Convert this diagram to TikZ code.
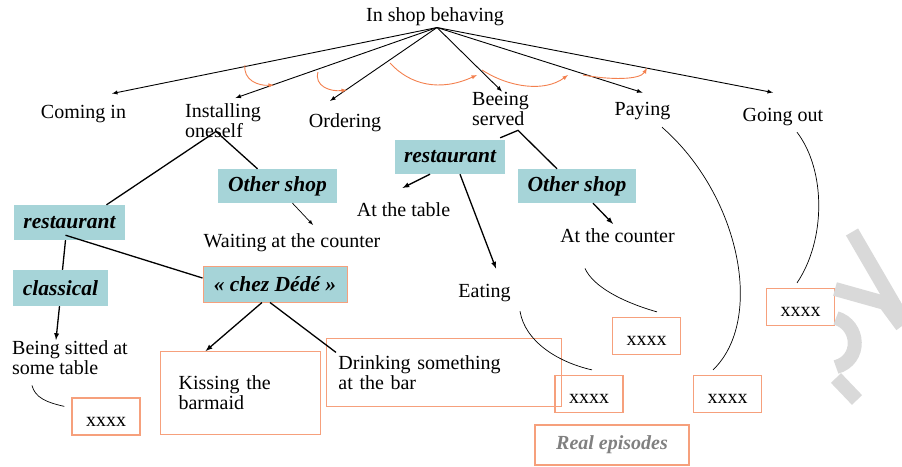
\documentclass[tikz,border=0pt]{standalone}
\usepackage{fontspec}
\setmainfont{Liberation Serif}
\definecolor{kindfill}{RGB}{166,212,216}
\definecolor{epiline}{RGB}{246,160,124}
\definecolor{seqline}{RGB}{243,128,78}
\newcommand{\lblfont}{\fontsize{20}{20}\selectfont}
\newcommand{\kindfont}{\fontsize{21.5}{22}\selectfont\bfseries\itshape}
\begin{document}
\begin{tikzpicture}[x=1pt, y=-1pt,
        phase/.style={font=\lblfont, inner sep=2pt},
        kind/.style={fill=kindfill, font=\kindfont, inner sep=0pt},
        episode/.style={draw=epiline, line width=1.2pt, font=\lblfont, align=left, inner ysep=0pt},
        real/.style={draw=epiline, line width=1.2pt, font=\lblfont, text height=19pt,
                     minimum width=68pt, minimum height=37pt, inner sep=0pt},
        branch/.style={draw, line width=0.9pt, -latex},
        link/.style={draw, line width=1.3pt},
        note/.style={draw, line width=0.7pt},
        seq/.style={draw=seqline, line width=0.9pt, -latex},
        wmark/.style={draw=black!15, line width=14pt}
    ]
    \useasboundingbox (0,0) rectangle (902,466);

    % Draw the phases of the in-shop behaviour
    \node[phase, anchor=base] (root) at (435,21) {In shop behaving};
    \node[phase, anchor=base] (coming) at (83.5,118) {Coming in};
    \node[phase, anchor=north west, align=left] (installing) at (183,101) {Installing\\oneself};
    \node[phase, anchor=base] (ordering) at (345,127) {Ordering};
    \node[phase, anchor=north west, align=left] (serving) at (470,90.5) {Beeing\\served};
    \node[phase, anchor=base] (paying) at (642.5,115) {Paying};
    \node[phase, anchor=base] (leaving) at (783,121) {Going out};

    \draw[branch] ([xshift=2pt]root.south) -- ([xshift=28.5pt,yshift=9pt]coming.north);
    \draw[branch] ([xshift=2pt]root.south) -- ([xshift=12.5pt,yshift=3pt]installing.north);
    \draw[branch] ([xshift=2pt]root.south) -- ([xshift=-15pt,yshift=10pt]ordering.north);
    \draw[branch] ([xshift=2pt]root.south) -- ([xshift=1.5pt,yshift=-1pt]serving.north);
    \draw[branch] ([xshift=2pt]root.south) -- ([yshift=7pt]paying.north);
    \draw[branch] ([xshift=2pt]root.south) -- ([xshift=-10pt,yshift=13pt]leaving.north);

    % sequence between the phases
    \coordinate (seq1a) at (245,65);  \coordinate (seq1b) at (274,85);
    \coordinate (seq2a) at (318,72);  \coordinate (seq2b) at (347,90);
    \coordinate (seq3a) at (390,63);  \coordinate (seq3b) at (477,75);
    \coordinate (seq4a) at (482,70);  \coordinate (seq4b) at (568,75);
    \coordinate (seq5a) at (583,75);  \coordinate (seq5b) at (647,68);
    \draw[seq] (seq1a) .. controls +(-2,15) and +(-16,1) .. (seq1b);
    \draw[seq] (seq2a) .. controls +(-4,14) and +(-17,2) .. (seq2b);
    \draw[seq] (seq3a) .. controls +(20,22) and +(-37,17) .. (seq3b);
    \draw[seq] (seq4a) .. controls +(28,18) and +(-23,17) .. (seq4b);
    \draw[seq] (seq5a) .. controls +(27,5) and +(-7,12) .. (seq5b);

    % kinds of shop
    \node[kind, minimum width=111pt, minimum height=35pt] (restoA) at (69.5,222.5) {restaurant};
    \node[kind, minimum width=119pt, minimum height=34pt] (otherA) at (277.5,186) {Other shop};
    \node[kind, minimum width=95pt, minimum height=36pt] (classical) at (60.5,288) {classical};
    \node[kind, draw=epiline, line width=1pt, minimum width=144pt, minimum height=36pt] (dede) at (275,284) {« chez Dédé »};
    \node[kind, minimum width=110pt, minimum height=34pt] (restoB) at (450,157) {restaurant};
    \node[kind, minimum width=118pt, minimum height=34pt] (otherB) at (577,186) {Other shop};

    \node[phase, anchor=base] (waiting) at (292,247) {Waiting at the counter};
    \node[phase, anchor=base] (attable) at (403.5,216) {At the table};
    \node[phase, anchor=base] (atcounter) at (617.5,242) {At the counter};
    \node[phase, anchor=base] (eating) at (484.5,297) {Eating};
    \node[phase, anchor=north west, align=left] (sitted) at (10,338) {Being sitted at\\some table};

    \node[episode, anchor=north west, minimum height=83pt, text width=124pt, inner xsep=18pt] (kissing) at (160,351) {Kissing the\\barmaid};
    \node[episode, anchor=north west, minimum height=68pt, text width=211pt, inner xsep=12pt, line width=0.8pt] (drinking) at (326,338) {Drinking something\\at the bar};

    \draw[link] ([xshift=37pt]restoA.north) -- ([xshift=-7pt,yshift=8pt]installing.south) -- ([xshift=-20pt]otherA.north);
    \draw[link] ([xshift=-4pt]restoA.south) -- ([xshift=2pt]classical.north);
    \draw[link] ([xshift=-4pt,yshift=5pt]restoA.south) -- ([yshift=6pt]dede.west);
    \draw[link, -latex] ([xshift=-1pt]classical.south) -- ([xshift=-14pt,yshift=-2pt]sitted.north);
    \draw[note, -latex] ([xshift=15pt]otherA.south) -- ([xshift=21pt,yshift=6pt]waiting.north);
    \draw[link, -latex] ([xshift=-13pt]dede.south) -- ([xshift=-35pt]kissing.north);
    \draw[link] ([xshift=-5pt]dede.south) -- ([xshift=10pt,yshift=20pt]drinking.west);

    \draw[link] ([xshift=-5pt,yshift=2pt]restoB.north east) -- ([xshift=17.5pt,yshift=-2pt]serving.south) -- ([xshift=-20pt]otherB.north);
    \draw[link, -latex] ([xshift=-20pt]restoB.south) -- ([xshift=-1pt,yshift=12pt]attable.north);
    \draw[link, -latex] ([xshift=10pt]restoB.south) -- ([xshift=11.5pt,yshift=13pt]eating.north);
    \draw[link, -latex] ([xshift=16pt]otherB.south) -- ([xshift=-4.5pt,yshift=2pt]atcounter.north);

    % real episodes
    \node[real] (realA) at (106,416.5) {xxxx};
    \node[real] (realB) at (589,394) {xxxx};
    \node[real] (realC) at (646.5,336) {xxxx};
    \node[real] (realD) at (727.5,394) {xxxx};
    \node[real] (realE) at (800.5,307) {xxxx};
    \node[real, minimum width=154pt, minimum height=40pt, text height=14pt, font=\lblfont\bfseries\itshape, text=black!50] (realep) at (612,445) {Real episodes};

    \draw[note] ([xshift=-38pt,yshift=-9pt]sitted.south) .. controls +(3,12) and +(-18,-4) .. ([xshift=-7pt,yshift=-9pt]realA.north west);
    \draw[note] ([xshift=35.5pt,yshift=-7.7pt]eating.south) .. controls +(5,30) and +(-35,-8) .. ([xshift=3pt,yshift=5pt]realB.north);
    \draw[note] ([xshift=-32.5pt,yshift=-24pt]atcounter.south) .. controls +(8,18) and +(-35,-10) .. ([xshift=10.5pt,yshift=5pt]realC.north);
    \draw[note] ([xshift=19.5pt,yshift=-5.7pt]paying.south) .. controls +(78,68) and +(52,-50) .. ([xshift=-14.5pt,yshift=5pt]realD.north);
    \draw[note] ([xshift=14pt,yshift=-4.7pt]leaving.south) .. controls +(29,38) and +(29,-43) .. ([xshift=-3.5pt,yshift=5pt]realE.north);

    % watermark fragment at the right edge
    \draw[wmark] (852,232) -- (902,318);
    \draw[wmark] (835,289) -- (885,303) -- (902,326);
    \draw[wmark] (836,318) .. controls (860,325) and (862,360) .. (836,367);
    \draw[wmark] (836,378) -- (857,400);
\end{tikzpicture}
\end{document}
